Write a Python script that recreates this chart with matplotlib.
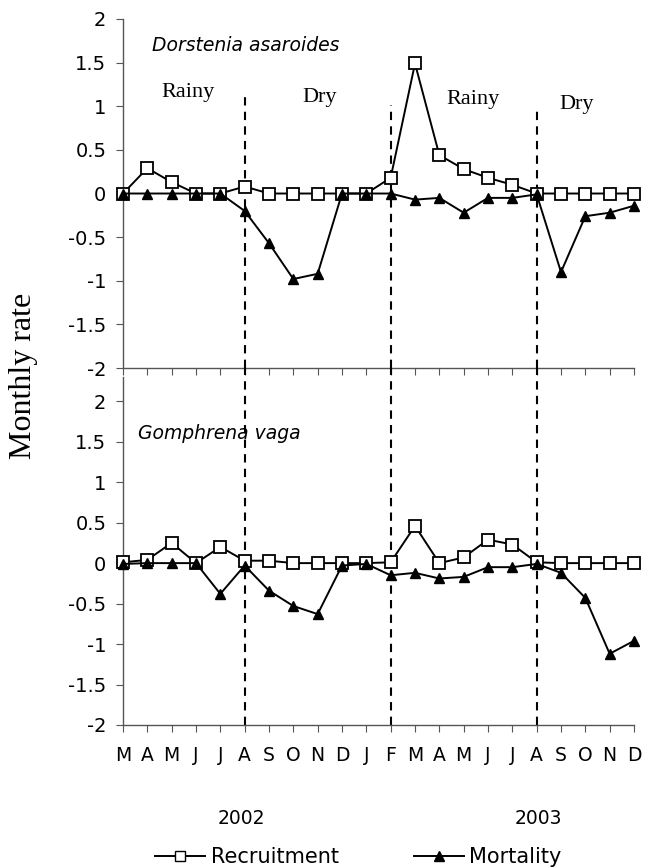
import matplotlib
matplotlib.use('Agg')
import matplotlib.pyplot as plt
from matplotlib.lines import Line2D

# Meses de mar/2002 a dez/2003
meses = ['M', 'A', 'M', 'J', 'J', 'A', 'S', 'O', 'N', 'D', 'J',
         'F', 'M', 'A', 'M', 'J', 'J', 'A', 'S', 'O', 'N', 'D']
anos = ['2002', '2003']

dors_recrut = [0, 0.29, 0.13, 0, 0, 0.08, 0, 0, 0, 0, 0,
               0.18, 1.49, 0.44, 0.28, 0.18, 0.10, 0, 0, 0, 0, 0]
dors_mort = [0, 0, 0, 0, 0, -0.20, -0.57, -0.98, -0.92, 0, 0,
             0, -0.07, -0.05, -0.22, -0.05, -0.05, -0.01, -0.90, -0.26, -0.22, -0.14]

gomp_recrut = [0.01, 0.04, 0.25, 0, 0.20, 0.03, 0.03, 0, 0, 0, 0,
               0.01, 0.46, 0, 0.07, 0.29, 0.23, 0.01, 0, 0, 0, 0]
gomp_mort = [-0.01, 0, 0, 0, -0.38, -0.03, -0.34, -0.53, -0.63, -0.03, -0.01,
             -0.15, -0.12, -0.19, -0.17, -0.05, -0.05, -0.01, -0.12, -0.43, -1.12, -0.96]

# limites das estacoes (indice do mes) e altura do tracejado no painel de cima
estacoes = [5, 11, 17]
topo_tracejado = [1.15, 1.01, 0.98]

SANS = 'DejaVu Sans'
SERIF = 'Liberation Serif'
cinza = '#555555'

fig = plt.figure(figsize=(6.49, 8.67), dpi=100)
ax1 = fig.add_axes([0.1895, 0.5755, 0.7874, 0.4026])
ax2 = fig.add_axes([0.1895, 0.1638, 0.7874, 0.4014])

x = list(range(len(meses)))

def estilo_eixo(ax, ylim):
    ax.set_xlim(0, len(meses) - 1)
    ax.set_ylim(*ylim)
    for s in ['top', 'right']:
        ax.spines[s].set_visible(False)
    for s in ['left', 'bottom']:
        ax.spines[s].set_color(cinza)
        ax.spines[s].set_linewidth(1.0)
    ax.set_yticks([-2, -1.5, -1, -0.5, 0, 0.5, 1, 1.5, 2])
    ax.set_yticklabels(['-2', '-1.5', '-1', '-0.5', '0', '0.5', '1', '1.5', '2'],
                       fontfamily=SANS, fontsize=14)
    ax.set_xticks(x)
    ax.tick_params(axis='y', direction='out', length=5, color=cinza, pad=7)
    ax.tick_params(axis='x', direction='out', length=5, color=cinza)

def plota(ax, rec, mort):
    ax.plot(x, rec, color='black', lw=1.4, marker='s', ms=9, mfc='white',
            mec='black', mew=1.3, clip_on=False, zorder=3)
    ax.plot(x, mort, color='black', lw=1.4, marker='^', ms=7.5, mfc='black',
            mec='black', clip_on=False, zorder=4)

estilo_eixo(ax1, (-2, 2))
estilo_eixo(ax2, (-2, 2.3))
ax1.set_xticklabels([])
ax2.set_xticklabels(meses, fontfamily=SANS, fontsize=13.5)
ax2.tick_params(axis='x', pad=10)

plota(ax1, dors_recrut, dors_mort)
plota(ax2, gomp_recrut, gomp_mort)

# linhas tracejadas das estacoes
for xs, topo in zip(estacoes, topo_tracejado):
    ax1.plot([xs, xs], [-2, topo], color='black', lw=1.5, dashes=(4, 3), zorder=2)
    ax2.plot([xs, xs], [-2, 2.42], color='black', lw=1.5, dashes=(4, 3),
             zorder=2, clip_on=False)

ax1.text(1.19, 1.70, 'Dorstenia asaroides', fontfamily=SANS, style='italic',
         fontsize=13.5, ha='left', va='center')
ax1.text(2.66, 1.16, 'Rainy', fontfamily=SERIF, fontsize=16, ha='center', va='center')
ax1.text(8.1, 1.10, 'Dry', fontfamily=SERIF, fontsize=16, ha='center', va='center')
ax1.text(14.4, 1.08, 'Rainy', fontfamily=SERIF, fontsize=16, ha='center', va='center')
ax1.text(18.65, 1.02, 'Dry', fontfamily=SERIF, fontsize=16, ha='center', va='center')
ax2.text(0.61, 1.60, 'Gomphrena vaga', fontfamily=SANS, style='italic',
         fontsize=13.5, ha='left', va='center')

fig.text(0.036, 0.567, 'Monthly rate', fontfamily=SERIF, fontsize=23,
         rotation=90, ha='center', va='center')

fig.text(241 / 649, 1 - 818 / 867, anos[0], fontfamily=SANS, fontsize=13.5,
         ha='center', va='center')
fig.text(538 / 649, 1 - 818 / 867, anos[1], fontfamily=SANS, fontsize=13.5,
         ha='center', va='center')

h1 = Line2D([], [], color='black', lw=1.4, marker='s', ms=7, mfc='white', mec='black')
h2 = Line2D([], [], color='black', lw=1.4, marker='^', ms=7, mfc='black', mec='black')
fig.legend([h1, h2], ['Recruitment', 'Mortality'], loc='center',
           bbox_to_anchor=(0.552, 1 - 857 / 867), ncol=2, frameon=False,
           prop={'family': SANS, 'size': 15}, handlelength=2.4,
           handletextpad=0.25, columnspacing=3.6, numpoints=1,
           borderpad=0, borderaxespad=0)

fig.savefig('out.png', dpi=100)
